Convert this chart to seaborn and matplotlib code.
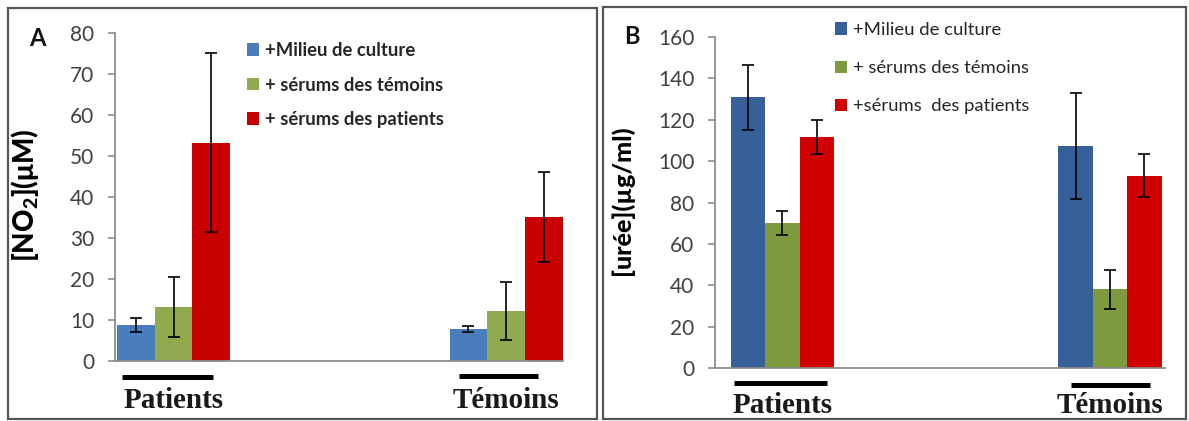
import numpy as np
import pandas as pd
import seaborn as sns
import matplotlib
matplotlib.use("Agg")
import matplotlib.pyplot as plt
from matplotlib.patches import Rectangle

# ---------------- data ----------------
groups = ["Patients", "Témoins"]
conditions_a = ["+Milieu de culture", "+ sérums des témoins", "+ sérums des patients"]
conditions_b = ["+Milieu de culture", "+ sérums des témoins", "+sérums  des patients"]

no2_milieu = [8.8, 7.8]
no2_temoins = [13.2, 12.2]
no2_patients = [53.2, 35.1]
no2_err_milieu = [1.8, 0.7]
no2_err_temoins = [7.3, 7.1]
no2_err_patients = [21.8, 11.0]

uree_milieu = [130.8, 107.4]
uree_temoins = [69.9, 38.0]
uree_patients = [111.5, 92.9]
uree_err_milieu = [15.7, 25.5]
uree_err_temoins = [5.8, 9.5]
uree_err_patients = [8.2, 10.4]

yticks_a = [0, 10, 20, 30, 40, 50, 60, 70, 80]
yticks_b = [0, 20, 40, 60, 80, 100, 120, 140, 160]

# ---------------- style ----------------
sns.set_theme(style="white")
plt.rcParams["font.family"] = ["Lato", "DejaVu Sans"]
plt.rcParams["mathtext.fontset"] = "custom"
plt.rcParams["mathtext.rm"] = "Lato"
plt.rcParams["mathtext.bf"] = "Lato:black"

colors_a = ["#4A7EBB", "#8FAA4F", "#C80000"]
colors_b = ["#36609A", "#7D9A3E", "#D00000"]
W, H = 1189, 421
fig = plt.figure(figsize=(W / 100, H / 100), dpi=100)


def fx(px):
    return px / W


def fy(py):
    return 1 - py / H


def make_df(conds, series):
    rows = []
    for c, vals in zip(conds, series):
        for g, v in zip(groups, vals):
            rows.append({"group": g, "condition": c, "value": v})
    return pd.DataFrame(rows)


def panel(rect_px, conds, series, errs, colors, width, xlim, ylim, yticks,
          ylabel, ylabel_size, ylabel_xy, legend_xy, legend_weight,
          legend_spacing, underline, label_pad):
    l, r, t, b = rect_px
    ax = fig.add_axes([fx(l), fy(b), fx(r - l), (b - t) / H])
    df = make_df(conds, series)
    sns.barplot(data=df, x="group", y="value", hue="condition", order=groups,
                hue_order=conds, palette=colors, width=width, errorbar=None,
                saturation=1, linewidth=0, ax=ax)
    bar_containers = list(ax.containers)
    for cont, e in zip(bar_containers, errs):
        xs = [p.get_x() + p.get_width() / 2 for p in cont]
        hs = [p.get_height() for p in cont]
        ax.errorbar(xs, hs, yerr=e, fmt="none", ecolor="black",
                    elinewidth=1.2, capsize=4.5, capthick=1.2, zorder=5)
    ax.set_xlim(*xlim)
    ax.set_ylim(*ylim)
    ax.set_yticks(yticks)
    sns.despine(ax=ax)
    for s in ["left", "bottom"]:
        ax.spines[s].set_color("#8C8C8C")
        ax.spines[s].set_linewidth(1.3)
    ax.tick_params(axis="y", length=5, width=1.2, color="#8C8C8C",
                   labelsize=15, labelcolor="#404040", pad=10, left=True)
    ax.tick_params(axis="x", length=0, pad=label_pad)
    ax.set_xticks([0, 1])
    ax.set_xticklabels(groups, fontfamily="Liberation Serif", fontweight="bold",
                       fontsize=21, color="#1a1a1a")
    ax.set_xlabel("")
    ax.set_ylabel(ylabel, fontsize=ylabel_size, fontweight="black",
                  color="black")
    ax.yaxis.set_label_coords(*ylabel_xy)
    # underline bars below each group
    for i, (x0, x1, yy) in enumerate(underline):
        ax.plot([i + x0, i + x1], [yy, yy], color="black", lw=3.6,
                solid_capstyle="butt", transform=ax.get_xaxis_transform(),
                clip_on=False)
    handles, labels = ax.get_legend_handles_labels()
    ax.legend(handles, labels, loc="upper left",
              bbox_to_anchor=(fx(legend_xy[0]), fy(legend_xy[1])),
              bbox_transform=fig.transFigure, frameon=False,
              handlelength=0.65, handleheight=0.65, handletextpad=0.35,
              labelspacing=legend_spacing, borderpad=0, borderaxespad=0,
              prop={"family": "Lato", "weight": legend_weight, "size": 13.3})
    return ax


# Panel A
panel((115, 563, 33, 361), conditions_a,
      [no2_milieu, no2_temoins, no2_patients],
      [no2_err_milieu, no2_err_temoins, no2_err_patients],
      colors_a, 0.34, (-0.176, 1.171), (0, 80), yticks_a,
      r"[NO$_\mathbf{2}$](μM)", 20, (-0.165, 0.506), (247, 42), "bold", 0.95,
      [(-0.155, 0.119, -0.049), (-0.141, 0.096, -0.046)], 19)

# Panel B
panel((715, 1165, 37, 368), conditions_b,
      [uree_milieu, uree_temoins, uree_patients],
      [uree_err_milieu, uree_err_temoins, uree_err_patients],
      colors_b, 0.315, (-0.206, 1.168), (0, 160), yticks_b,
      "[urée](µg/ml)", 18, (-0.18, 0.508), (835, 22), "normal", 1.2,
      [(-0.148, 0.136, -0.045), (-0.119, 0.122, -0.051)], 17)

# panel letters
fig.text(fx(37), fy(39), "A", fontsize=17, fontweight="bold", ha="center",
         va="center", color="#111111")
fig.text(fx(632), fy(37), "B", fontsize=17, fontweight="bold", ha="center",
         va="center", color="#111111")

# panel frames
for (x0, y0, x1, y1) in [(8, 8, 597, 419), (603, 7, 1186, 419)]:
    fig.add_artist(Rectangle((fx(x0), fy(y1)), fx(x1 - x0), (y1 - y0) / H,
                             transform=fig.transFigure, fill=False,
                             edgecolor="#555555", lw=1.6))

fig.savefig("out.png", dpi=100)
